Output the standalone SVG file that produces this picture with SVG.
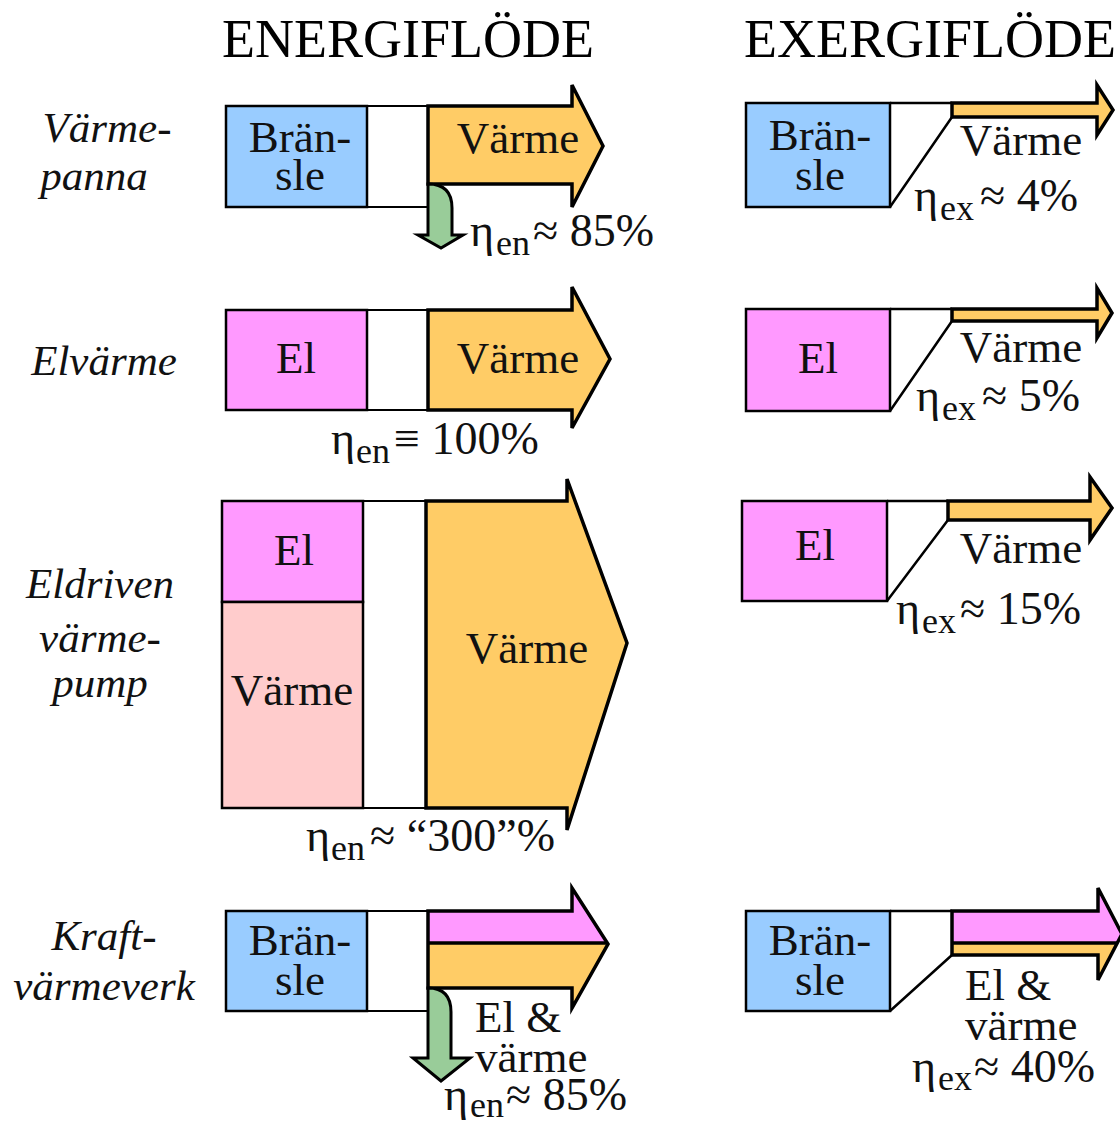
<svg xmlns="http://www.w3.org/2000/svg" width="1120" height="1124" viewBox="0 0 1120 1124">
<style>
.t{font-family:"Liberation Serif","Times New Roman",serif;font-size:45px;fill:#111;}
.e{font-family:"Liberation Serif","Times New Roman",serif;font-size:46px;fill:#111;}
.s{font-size:36px;}
.l{font-family:"Liberation Serif","Times New Roman",serif;font-size:43px;font-style:italic;fill:#111;text-anchor:middle;}
.h{font-family:"Liberation Serif","Times New Roman",serif;font-size:54px;fill:#000;}
.c{text-anchor:middle;}
.box{stroke:#000;stroke-width:2.5;}
.gap{fill:#fff;stroke:#000;stroke-width:2;}
.arr{stroke:#000;stroke-width:3.5;stroke-linejoin:miter;}
.blue{fill:#99ccff;}
.mag{fill:#ff99ff;}
.ora{fill:#ffcc66;}
.pink{fill:#ffcccc;}
.green{fill:#99cc99;stroke:#000;stroke-width:3;}
.ln{fill:none;stroke:#000;stroke-width:2.5;}
</style>
<rect width="1120" height="1124" fill="#fff"/>
<g id="titles">
<text class="h" x="222" y="57">ENERGIFLÖDE</text>
<text class="h" x="744" y="57">EXERGIFLÖDE</text>
</g>
<g id="labels">
<text class="l" x="107" y="142">Värme-</text>
<text class="l" x="94" y="190">panna</text>
<text class="l" x="104" y="375">Elvärme</text>
<text class="l" x="100" y="598">Eldriven</text>
<text class="l" x="100" y="652">värme-</text>
<text class="l" x="100" y="697">pump</text>
<text class="l" x="104" y="950">Kraft-</text>
<text class="l" x="104" y="1000">värmeverk</text>
</g>
<!-- Row 1 energy -->
<g id="r1-energy">
<rect class="gap" x="367" y="106" width="61" height="101"/>
<rect class="box blue" x="226" y="106" width="141" height="101"/>
<polygon class="arr ora" points="428,106 572,106 572,85 603,146 572,207 572,184 428,184"/>
<path class="green" d="M428,184 Q452,184 452,208 L452,235 L463,235 L441,248 L418,235 L428,235 Z"/>
<text class="t c" x="300" y="152">Brän-</text>
<text class="t c" x="300" y="190">sle</text>
<text class="t c" x="518" y="153">Värme</text>
<text class="e" x="470" y="246">η<tspan class="s" dy="9" dx="2">en</tspan><tspan dy="-9" dx="3">≈ 85%</tspan></text>
</g>
<!-- Row 1 exergy -->
<g id="r1-exergy">
<rect class="box blue" x="746" y="103" width="144" height="104"/>
<path class="ln" d="M890,103 L952,103 M890,207 L952,117"/>
<polygon class="arr ora" points="952,103 1097,103 1097,85 1113,110 1097,135 1097,117 952,117"/>
<text class="t c" x="820" y="150">Brän-</text>
<text class="t c" x="820" y="190">sle</text>
<text class="t c" x="1021" y="155">Värme</text>
<text class="e" x="914" y="211">η<tspan class="s" dy="9" dx="2">ex</tspan><tspan dy="-9" dx="6">≈ 4%</tspan></text>
</g>
<!-- Row 2 energy -->
<g id="r2-energy">
<rect class="gap" x="367" y="310" width="61" height="100"/>
<rect class="box mag" x="226" y="310" width="141" height="100"/>
<polygon class="arr ora" points="428,310 572,310 572,287 610,359 572,428 572,410 428,410"/>
<text class="t c" x="296" y="373">El</text>
<text class="t c" x="518" y="373">Värme</text>
<text class="e" x="331" y="454">η<tspan class="s" dy="9" dx="1">en</tspan><tspan dy="-9" dx="4">≡ 100%</tspan></text>
</g>
<!-- Row 2 exergy -->
<g id="r2-exergy">
<rect class="box mag" x="746" y="309" width="144" height="102"/>
<path class="ln" d="M890,309 L952,309 M890,411 L952,321"/>
<polygon class="arr ora" points="952,309 1097,309 1097,288 1112,313 1097,338 1097,321 952,321"/>
<text class="t c" x="818" y="373">El</text>
<text class="t c" x="1021" y="362">Värme</text>
<text class="e" x="916" y="411">η<tspan class="s" dy="9" dx="2">ex</tspan><tspan dy="-9" dx="6">≈ 5%</tspan></text>
</g>
<!-- Row 3 energy -->
<g id="r3-energy">
<rect class="gap" x="363" y="501" width="63" height="307"/>
<rect class="box mag" x="222" y="501" width="141" height="101"/>
<rect class="box pink" x="222" y="602" width="141" height="206"/>
<polygon class="arr ora" points="426,501 567,501 567,479 627,643 567,830 567,808 426,808"/>
<text class="t c" x="294" y="565">El</text>
<text class="t c" x="292" y="705">Värme</text>
<text class="t c" x="527" y="663">Värme</text>
<text class="e" x="306" y="851">η<tspan class="s" dy="9" dx="1">en</tspan><tspan dy="-9" dx="5">≈ “300”%</tspan></text>
</g>
<!-- Row 3 exergy -->
<g id="r3-exergy">
<rect class="box mag" x="742" y="501" width="145" height="100"/>
<path class="ln" d="M887,501 L948,501 M887,601 L948,520"/>
<polygon class="arr ora" points="948,501 1090,501 1090,477 1112,508 1090,540 1090,520 948,520"/>
<text class="t c" x="815" y="560">El</text>
<text class="t c" x="1021" y="563">Värme</text>
<text class="e" x="896" y="624">η<tspan class="s" dy="9" dx="2">ex</tspan><tspan dy="-9" dx="4">≈ 15%</tspan></text>
</g>
<!-- Row 4 energy -->
<g id="r4-energy">
<rect class="gap" x="367" y="911" width="61" height="100"/>
<rect class="box blue" x="226" y="911" width="141" height="100"/>
<polygon class="mag" points="428,911 572,911 572,888 608,944 428,944"/>
<polygon class="ora" points="428,944 608,944 572,1008 572,988 428,988"/>
<line x1="428" y1="943" x2="607" y2="943" stroke="#000" stroke-width="3.5"/>
<polygon class="arr" fill="none" points="428,911 572,911 572,888 608,944 572,1008 572,988 428,988"/>
<path class="green" d="M428,988 Q451,988 451,1012 L451,1058 L470,1058 L441,1081 L413,1058 L428,1058 Z"/>
<text class="t c" x="300" y="955">Brän-</text>
<text class="t c" x="300" y="995">sle</text>
<text class="t" x="475" y="1032">El &amp;</text>
<text class="t" x="475" y="1072">värme</text>
<text class="e" x="444" y="1110">η<tspan class="s" dy="7" dx="2">en</tspan><tspan dy="-7" dx="2">≈ 85%</tspan></text>
</g>
<!-- Row 4 exergy -->
<g id="r4-exergy">
<rect class="box blue" x="746" y="911" width="144" height="100"/>
<path class="ln" d="M890,911 L952,911 M890,1011 L952,955"/>
<polygon class="mag" points="952,911 1098,911 1098,888 1122,934 1117,943 952,943"/>
<polygon class="ora" points="952,943 1117,943 1098,980 1098,955 952,955"/>
<line x1="952" y1="943" x2="1118" y2="943" stroke="#000" stroke-width="3.5"/>
<polygon class="arr" fill="none" points="952,911 1098,911 1098,888 1122,934 1098,980 1098,955 952,955"/>
<text class="t c" x="820" y="955">Brän-</text>
<text class="t c" x="820" y="995">sle</text>
<text class="t" x="965" y="1000">El &amp;</text>
<text class="t" x="965" y="1040">värme</text>
<text class="e" x="912" y="1082">η<tspan class="s" dy="8" dx="2">ex</tspan><tspan dy="-8" dx="2">≈ 40%</tspan></text>
</g>
</svg>
